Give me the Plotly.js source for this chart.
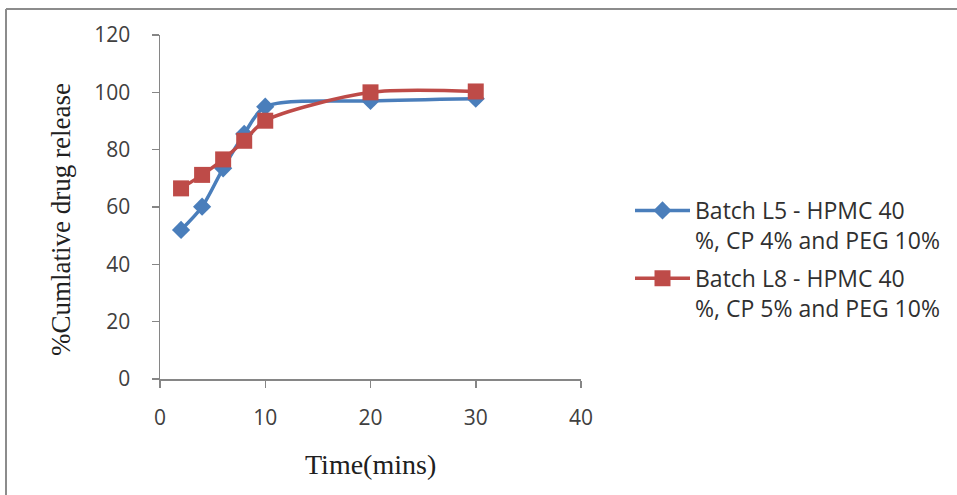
<!DOCTYPE html>
<html>
<head>
<meta charset="utf-8">
<script src="https://cdn.plot.ly/plotly-3.0.1.min.js"></script>
<style>html,body{margin:0;padding:0;background:#fff;}#chart{width:957px;height:495px;}</style>
</head>
<body>
<div id="chart"></div>
<script>
const timeMins = [2, 4, 6, 8, 10, 20, 30];
const batchL5 = [52.0, 60.1, 73.5, 85.5, 95.0, 97.0, 97.8];
const batchL8 = [66.5, 71.2, 76.6, 83.1, 90.1, 100.0, 100.3];
const seriesNames = [
  'Batch L5 - HPMC 40<br>%, CP 4% and PEG 10%',
  'Batch L8 - HPMC 40<br>%, CP 5% and PEG 10%'
];
const xTicks = [0, 10, 20, 30, 40];
const yTicks = [0, 20, 40, 60, 80, 100, 120];
const xTitle = 'Time(mins)';
const yTitle = '%Cumlative drug release';

const traces = [
  {
    x: timeMins, y: batchL5, name: seriesNames[0], type: 'scatter', mode: 'lines+markers',
    legendgroup: 'g1',
    line: {color: '#4A7EBB', width: 3.5, shape: 'spline', smoothing: 0.8},
    marker: {symbol: 'diamond', size: 14, color: '#4A7EBB'}
  },
  {
    x: timeMins, y: batchL8, name: seriesNames[1], type: 'scatter', mode: 'lines+markers',
    legendgroup: 'g2',
    line: {color: '#BE4B48', width: 3.5, shape: 'spline', smoothing: 0.8},
    marker: {symbol: 'square', size: 16, color: '#BE4B48'}
  }
];

const L = 160, R = 376, T = 35, B = 116, W = 957, H = 495;
const plotW = W - L - R, plotH = H - T - B;
const px = v => (v - L) / plotW;          // pixel x -> paper x
const py = v => (H - B - v) / plotH;      // pixel y -> paper y

const layout = {
  width: W, height: H,
  margin: {l: L, r: R, t: T, b: B},
  paper_bgcolor: '#ffffff', plot_bgcolor: '#ffffff',
  showlegend: true,
  xaxis: {
    range: [0, 40], tickvals: xTicks, ticktext: xTicks.map(String),
    showgrid: false, zeroline: false, showline: true, linecolor: '#868686', linewidth: 1.5,
    ticks: 'outside', ticklen: 7, tickcolor: '#868686', tickwidth: 1.5,
    ticklabelstandoff: 12,
    tickfont: {family: 'Open Sans', size: 21, color: '#404040'},
    fixedrange: true
  },
  yaxis: {
    range: [0, 120], tickvals: yTicks, ticktext: yTicks.map(String),
    showgrid: false, zeroline: false, showline: true, linecolor: '#868686', linewidth: 1.5,
    ticks: 'outside', ticklen: 7, tickcolor: '#868686', tickwidth: 1.5,
    ticklabelstandoff: 17,
    tickfont: {family: 'Open Sans', size: 21, color: '#404040'},
    fixedrange: true
  },
  legend: {
    x: px(630), y: py(189), xanchor: 'left', yanchor: 'top',
    font: {family: 'Open Sans', size: 23, color: '#303030'},
    valign: 'top', itemwidth: 55, tracegroupgap: 5,
    bgcolor: 'rgba(0,0,0,0)'
  },
  annotations: [
    {text: xTitle, xref: 'paper', yref: 'paper', x: px(370), y: py(464),
     xanchor: 'center', yanchor: 'middle', showarrow: false,
     font: {family: 'Liberation Serif', size: 28, color: '#202020'}},
    {text: yTitle, xref: 'paper', yref: 'paper', x: px(61), y: py(220),
     xanchor: 'center', yanchor: 'middle', showarrow: false, textangle: -90,
     font: {family: 'Liberation Serif', size: 27, color: '#202020'}}
  ],
  shapes: [
    {type: 'line', xref: 'paper', yref: 'paper',
     x0: px(6), x1: px(957), y0: py(9), y1: py(9),
     line: {color: '#8c8c8c', width: 2}},
    {type: 'line', xref: 'paper', yref: 'paper',
     x0: px(6), x1: px(6), y0: py(9), y1: py(500),
     line: {color: '#8c8c8c', width: 2}}
  ]
};

Plotly.newPlot('chart', traces, layout, {displayModeBar: false, staticPlot: true});
</script>
</body>
</html>
